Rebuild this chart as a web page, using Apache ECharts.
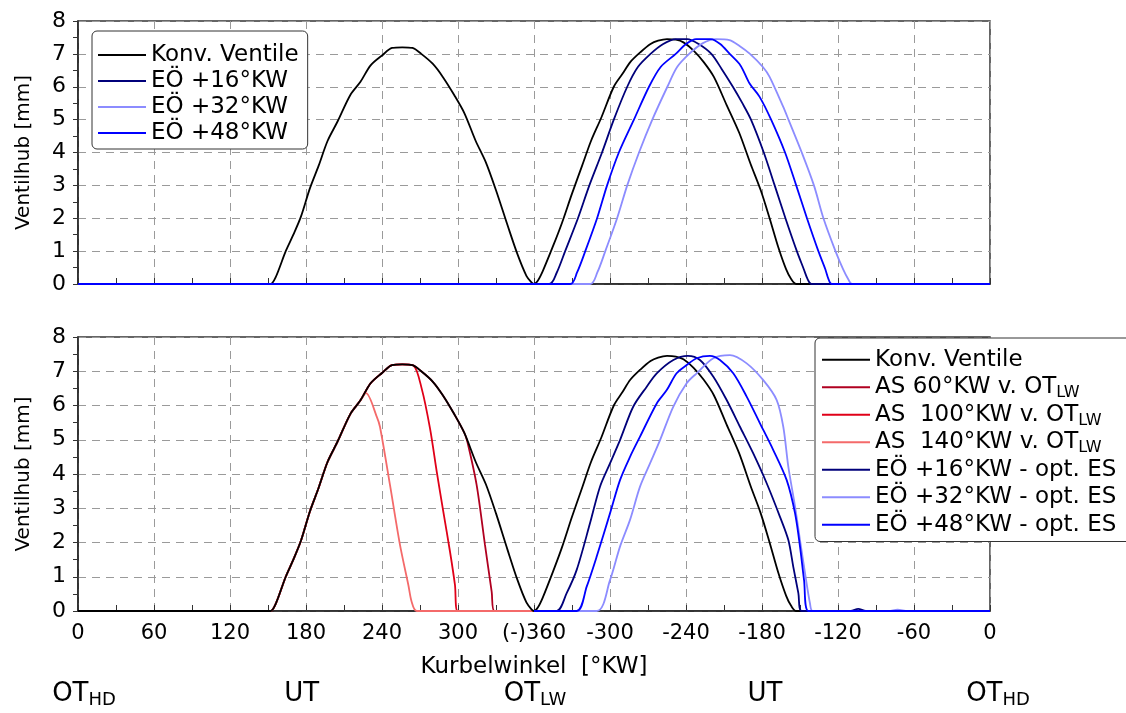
<!DOCTYPE html>
<html><head><meta charset="utf-8">
<script src="https://cdn.jsdelivr.net/npm/echarts@6/dist/echarts.min.js"></script>
<style>html,body{margin:0;padding:0;background:#fff;}#c{width:1126px;height:713px;}</style>
</head><body><div id="c"></div>
<script>
// ---- tick labels / titles ----
const xTickLabels = ['0','60','120','180','240','300','(-)360','-300','-240','-180','-120','-60','0'];
const yTitle = 'Ventilhub [mm]';
const xTitle = 'Kurbelwinkel  [°KW]';
const topLegendNames = ['Konv. Ventile','EÖ +16°KW','EÖ +32°KW','EÖ +48°KW'];
const bottomLegendNames = ['Konv. Ventile','AS 60°KW v. OT_LW','AS  100°KW v. OT_LW','AS  140°KW v. OT_LW','EÖ +16°KW - opt. ES','EÖ +32°KW - opt. ES','EÖ +48°KW - opt. ES'];
const phaseLabels = ['OT_HD','UT','OT_LW','UT','OT_HD'];

// ---- conventional valves (both panels) ----
const konvX = [0,150,152,156,164,170,176,183,190,197,205,215,223,231,240,248,256,264,271,280,288,297,305,314,322,330,339,347,354,358,360,363,367,375,382,390,398,405,413,423,430,436,444,452,458,465,472,478,486,494,502,512,522,531,539,546,553,559,563,567,720];
const konvY = [0,0,0,0.2,1.0,1.5,2.05,2.9,3.6,4.35,4.95,5.75,6.15,6.65,6.95,7.18,7.2,7.18,7.0,6.7,6.3,5.75,5.2,4.35,3.7,2.85,1.8,0.9,0.25,0.05,0,0.1,0.4,1.15,1.85,2.75,3.6,4.35,5.05,6.0,6.4,6.75,7.05,7.3,7.4,7.45,7.43,7.35,7.1,6.75,6.3,5.45,4.6,3.65,2.85,2.0,1.1,0.45,0.15,0,0];

// ---- top panel: inlet opening shifts ----
const top16X = [0,372,378,384.6,394.7,403.7,413.7,423,433.6,442,452,462,472,481,490,500,508,517,524.5,531.3,541.4,550,558.5,567.5,573,576,579,720];
const top16Y = [0,0,0.35,1,2,3,4,5,6,6.6,7,7.3,7.45,7.45,7.3,7,6.55,6,5.5,5,4,3,2,1,0.45,0.15,0,0];
const top48X = [0,388.6,394,400.5,409.8,417.7,427,438.9,450.8,460,471.9,480,488,499.7,507,514.5,523,530.2,538,547.2,558.2,567,575.5,584.5,590,592.5,595,720];
const top48Y = [0,0,0.35,1,2,3,4,5,6,6.6,7,7.3,7.45,7.45,7.3,7,6.65,6.1,5.7,5,4,3,2,1,0.45,0.15,0,0];
const top32X = [0,404.4,410,416.3,425.6,433.6,442.9,453.4,465.3,473,482.5,493,503.7,514.3,522,530.5,540.7,546,556.6,560.9,571.4,581,588.5,598,604,608,611,720];
const top32Y = [0,0,0.35,1,2,3,4,5,6,6.6,7,7.32,7.45,7.42,7.25,7,6.6,6.3,5.4,5,4,3,2,1,0.45,0.15,0,0];

// ---- bottom panel: exhaust closing variants ----
const as60X = [0,150,152,156,164,170,176,183,190,197,205,215,223,231,240,248,256,264,271,280,288,297,305,307.4,314.7,321.3,326.6,328.7,376];
const as60Y = [0,0,0,0.2,1.0,1.5,2.05,2.9,3.6,4.35,4.95,5.75,6.15,6.65,6.95,7.18,7.2,7.18,7.0,6.7,6.3,5.75,5.2,4.94,3.68,1.93,0.56,0,0];
const as100X = [0,150,152,156,164,170,176,183,190,197,205,215,223,231,240,248,256,264.7,271.3,277.9,283.2,288.4,293.7,297.6,299.7,376];
const as100Y = [0,0,0,0.2,1.0,1.5,2.05,2.9,3.6,4.35,4.95,5.75,6.15,6.65,6.95,7.18,7.2,7.17,6.5,5.33,4.07,2.9,1.73,0.76,0,0];
const as140X = [0,150,152,156,164,170,176,183,190,197,205,215,223,227.4,235.9,238.4,246.3,254.2,260.8,263.4,267.4,376];
const as140Y = [0,0,0,0.2,1.0,1.5,2.05,2.9,3.6,4.35,4.95,5.75,6.15,6.36,5.67,5.38,3.68,1.93,0.76,0.27,0,0];

// ---- bottom panel: inlet with optimised closing ----
const bot16X = [360,377.9,385.8,393.7,404.2,412.1,420,427.9,438.4,449,456.9,470,481.5,491,501.6,512.1,522.6,533.1,543.7,554.2,560.8,564.7,568.7,571.3,610,616,622,720];
const bot16Y = [0,0,0.52,1.2,2.56,3.63,4.31,4.99,5.97,6.55,6.94,7.33,7.45,7.33,6.84,6.16,5.38,4.6,3.73,2.75,2.07,1.29,0.52,0,0,0.06,0,0];
const bot48X = [360,393.7,401.6,409.5,420,427.9,435.8,443.7,456.9,464.8,472.6,480.5,488.4,498.9,506.8,517.3,527.9,538.4,548.9,559.5,566.1,570,573.2,576.6,720];
const bot48Y = [0,0,0.71,1.59,2.85,3.82,4.5,5.09,6.06,6.45,6.94,7.18,7.38,7.45,7.33,6.94,6.26,5.48,4.7,3.82,2.85,1.88,0.9,0,0];
const bot32X = [360,409.5,420,427.9,435.8,443.7,451.6,459.5,470,480.5,488.4,501.6,514.7,527.9,541,551.6,556.8,560.8,566.1,570,574,577.9,580,640,647,655,720];
const bot32Y = [0,0,0.9,1.88,2.66,3.63,4.31,4.99,5.97,6.65,6.94,7.38,7.47,7.23,6.74,6.16,5.38,4.21,3.05,2.07,1.1,0.22,0,0,0.04,0,0];

// ---- styling ----
const FONT = 'DejaVu Sans';
const C_BLACK = '#000000', C_NAVY = '#00007a', C_LAV = '#8c8cff', C_BLUE = '#0000ff';
const C_AS60 = '#b00020', C_AS100 = '#e00018', C_AS140 = '#f46a6a';

function zip(xs, ys) { return xs.map((x, i) => [x, ys[i]]); }
function sub(s) { return s.replace(/_(LW|HD)/g, '{s|$1}'); }

const dashed = { show: true, lineStyle: { color: '#9a9a9a', width: 1, type: [8, 6] } };

function xAxis(gi, labels) {
  return {
    type: 'value', gridIndex: gi, min: 0, max: 720, interval: 60,
    axisLine: { show: true, onZero: false, lineStyle: { color: '#222', width: 1.5 } },
    axisTick: { show: true, inside: true, length: 6, lineStyle: { color: '#333' } },
    minorTick: { show: true, splitNumber: 2, length: 6, lineStyle: { color: '#333' } },
    splitLine: dashed,
    axisLabel: { show: labels, formatter: v => xTickLabels[Math.round(v / 60)], fontFamily: FONT, fontSize: 21, color: '#000', margin: 12 },
    name: labels ? xTitle : '', nameLocation: 'middle', nameGap: 45,
    nameTextStyle: { fontFamily: FONT, fontSize: 23, color: '#000' }
  };
}
function yAxis(gi) {
  return {
    type: 'value', gridIndex: gi, min: 0, max: 8, interval: 1,
    axisLine: { show: true, lineStyle: { color: '#222', width: 1.5 } },
    axisTick: { show: true, inside: false, length: 5, lineStyle: { color: '#333' } },
    minorTick: { show: true, splitNumber: 2, length: 5, lineStyle: { color: '#333' } },
    splitLine: dashed,
    axisLabel: { fontFamily: FONT, fontSize: 22, color: '#000', margin: 12 },
    name: yTitle, nameLocation: 'middle', nameRotate: 90, nameGap: 44,
    nameTextStyle: { fontFamily: FONT, fontSize: 20, color: '#000' }
  };
}
function line(name, gi, xs, ys, color, w) {
  return {
    type: 'line', name, xAxisIndex: gi, yAxisIndex: gi, data: zip(xs, ys),
    symbol: 'none', showSymbol: false, smooth: 0.3,
    lineStyle: { color, width: w || 1.8 }, itemStyle: { color }, animation: false
  };
}

const series = [
  line(topLegendNames[0], 0, konvX, konvY, C_BLACK),
  line(topLegendNames[1], 0, top16X, top16Y, C_NAVY),
  line(topLegendNames[2], 0, top32X, top32Y, C_LAV),
  line(topLegendNames[3], 0, top48X, top48Y, C_BLUE),
  line(bottomLegendNames[1], 1, as60X, as60Y, C_AS60),
  line(bottomLegendNames[2], 1, as100X, as100Y, C_AS100),
  line(bottomLegendNames[3], 1, as140X, as140Y, C_AS140),
  line(bottomLegendNames[0], 1, konvX, konvY, C_BLACK),
  line(bottomLegendNames[4], 1, bot16X, bot16Y, C_NAVY),
  line(bottomLegendNames[5], 1, bot32X, bot32Y, C_LAV),
  line(bottomLegendNames[6], 1, bot48X, bot48Y, C_BLUE)
];

const subRich = { s: { fontFamily: FONT, fontSize: 16, lineHeight: 11, verticalAlign: 'bottom', color: '#000' } };
const legendBase = {
  orient: 'vertical', itemGap: 0, itemWidth: 48, itemHeight: 2, icon: 'rect', selectedMode: false,
  backgroundColor: '#fff', borderColor: '#333', borderWidth: 1, borderRadius: 5, z: 10
};

const phaseX = [84, 301.6, 535, 765, 998];
const graphic = phaseLabels.map((t, i) => {
  const p = t.split('_');
  return {
    type: 'text', x: phaseX[i], y: 694, z: 20,
    style: {
      text: '{m|' + p[0] + '}' + (p[1] ? '{s|' + p[1] + '}' : ''),
      align: 'center', verticalAlign: 'middle', fill: '#000',
      rich: {
        m: { fontFamily: FONT, fontSize: 26, lineHeight: 30, fill: '#000' },
        s: { fontFamily: FONT, fontSize: 18, lineHeight: 8, verticalAlign: 'bottom', fill: '#000' }
      }
    }
  };
});

const option = {
  backgroundColor: '#fff',
  animation: false,
  grid: [
    { left: 78, right: 136, top: 21, height: 263, show: true, borderColor: '#333', borderWidth: 1.5, backgroundColor: 'transparent' },
    { left: 78, right: 136, top: 337, height: 274, show: true, borderColor: '#333', borderWidth: 1.5, backgroundColor: 'transparent' }
  ],
  xAxis: [xAxis(0, false), xAxis(1, true)],
  yAxis: [yAxis(0), yAxis(1)],
  legend: [
    Object.assign({}, legendBase, {
      left: 92, top: 31, padding: [11, 9, 3, 6], data: topLegendNames,
      textStyle: { fontFamily: FONT, fontSize: 23, color: '#000', lineHeight: 26 }
    }),
    Object.assign({}, legendBase, {
      left: 815, top: 338, padding: [8, 20, 3, 7], data: bottomLegendNames,
      formatter: n => sub(n),
      textStyle: { fontFamily: FONT, fontSize: 23, color: '#000', lineHeight: 27.5, rich: subRich }
    })
  ],
  graphic,
  series
};

const chart = echarts.init(document.getElementById('c'), null, { renderer: 'canvas' });
chart.setOption(option);
</script>
</body></html>
